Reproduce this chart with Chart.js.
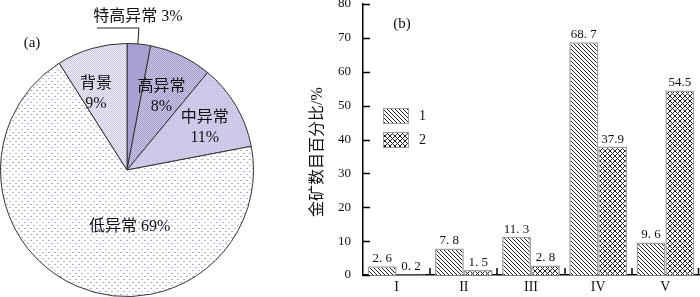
<!DOCTYPE html>
<html>
<head>
<meta charset="utf-8">
<script src="https://cdn.jsdelivr.net/npm/chart.js@4.4.0/dist/chart.umd.min.js"></script>
<style>
  body { margin: 0; width: 700px; height: 297px; overflow: hidden; background: #fff; position: relative; }
  #pie { position: absolute; left: 0; top: 0; }
  #bars { position: absolute; left: 290px; top: -4px; }
</style>
</head>
<body>
<canvas id="pie" width="290" height="297"></canvas>
<canvas id="bars" width="410" height="301"></canvas>
<script>
// datos de la grafica (a)
const etiquetasPie = ['特高异常', '高异常', '中异常', '低异常', '背景'];
const valoresPie = [3, 8, 11, 69, 9];

// datos de la grafica (b)
const categorias = ['I', 'II', 'III', 'IV', 'V'];
const serie1 = [2.6, 7.8, 11.3, 68.7, 9.6];
const serie2 = [0.2, 1.5, 2.8, 37.9, 54.5];
const textos1 = ['2. 6', '7. 8', '11. 3', '68. 7', '9. 6'];
const textos2 = ['0. 2', '1. 5', '2. 8', '37.9', '54.5'];
const leyenda = ['1', '2'];
const ticksY = [0, 10, 20, 30, 40, 50, 60, 70, 80];

const serif = '"Liberation Serif", "Noto Sans CJK SC", serif';

// patrones de relleno
function puntos(fondo, color, paso, lista) {
  const c = document.createElement('canvas');
  c.width = paso; c.height = paso;
  const g = c.getContext('2d');
  g.fillStyle = fondo; g.fillRect(0, 0, paso, paso);
  g.fillStyle = color;
  lista.forEach(p => g.fillRect(p[0], p[1], 1, 1));
  return g.createPattern(c, 'repeat');
}
function rayas(paso, cruz) {
  const c = document.createElement('canvas');
  c.width = paso; c.height = paso;
  const g = c.getContext('2d');
  g.fillStyle = '#fff'; g.fillRect(0, 0, paso, paso);
  g.strokeStyle = '#222'; g.lineWidth = 1;
  g.beginPath();
  g.moveTo(-1, -1); g.lineTo(paso + 1, paso + 1);
  g.moveTo(-1, paso - 1); g.lineTo(1, paso + 1);
  g.moveTo(paso - 1, -1); g.lineTo(paso + 1, 1);
  if (cruz) {
    g.moveTo(paso + 1, -1); g.lineTo(-1, paso + 1);
    g.moveTo(1, -1); g.lineTo(-1, 1);
    g.moveTo(paso + 1, paso - 1); g.lineTo(paso - 1, paso + 1);
  }
  g.stroke();
  return g.createPattern(c, 'repeat');
}

const coloresPie = [
  '#a99fd0',
  puntos('#cfc9e8', '#a298cc', 2, [[0, 0], [1, 1]]),
  puntos('#d2cbe9', '#c4bce2', 2, [[0, 0]]),
  puntos('#ffffff', '#b4aed8', 6, [[0, 0], [1, 0], [3, 3], [4, 3]]),
  puntos('#eeebf7', '#cdc7e5', 2, [[0, 0], [1, 1]])
];

// posicion de los textos dentro de las porciones
const radioTexto = [0, 0.64, 0.70, 0.45, 0.65];
const giroTexto = [0, 0, 2, -26, -6];
const lineasTexto = [[], ['高异常', '8%'], ['中异常', '11%'], ['低异常 69%'], ['背景', '9%']];

const textosPie = {
  id: 'textosPie',
  afterDatasetsDraw(chart) {
    const ctx = chart.ctx;
    const arcos = chart.getDatasetMeta(0).data;
    ctx.save();
    ctx.fillStyle = '#111';
    ctx.textAlign = 'center';
    ctx.textBaseline = 'middle';
    arcos.forEach((a, i) => {
      const p = a.getProps(['x', 'y', 'startAngle', 'endAngle', 'outerRadius'], true);
      const medio = (p.startAngle + p.endAngle) / 2;
      if (i === 0) {
        // etiqueta exterior con linea guia
        const bx = p.x + Math.cos(medio) * p.outerRadius;
        const by = p.y + Math.sin(medio) * p.outerRadius;
        ctx.strokeStyle = '#222';
        ctx.lineWidth = 1;
        ctx.beginPath();
        ctx.moveTo(bx - 1, by);
        ctx.lineTo(bx, 28);
        ctx.lineTo(97, 28);
        ctx.stroke();
        ctx.font = '16px ' + serif;
        ctx.fillText(etiquetasPie[i] + ' ' + valoresPie[i] + '%', 138, 17);
        return;
      }
      const ang = medio + giroTexto[i] * Math.PI / 180;
      const r = p.outerRadius * radioTexto[i];
      const cx = p.x + Math.cos(ang) * r;
      const cy = p.y + Math.sin(ang) * r;
      const ls = lineasTexto[i];
      ctx.font = '16px ' + serif;
      ls.forEach((t, k) => ctx.fillText(t, cx, cy + (k - (ls.length - 1) / 2) * 20));
    });
    ctx.font = '15px ' + serif;
    ctx.fillText('(a)', 32, 43);
    ctx.restore();
  }
};

new Chart(document.getElementById('pie'), {
  type: 'pie',
  data: {
    labels: etiquetasPie,
    datasets: [{
      data: valoresPie,
      backgroundColor: coloresPie,
      borderColor: '#333',
      borderWidth: 1
    }]
  },
  options: {
    responsive: false,
    animation: false,
    layout: { padding: { left: 0, right: 36, top: 43, bottom: 0 } },
    plugins: { legend: { display: false }, tooltip: { enabled: false } }
  },
  plugins: [textosPie]
});

// grafica de barras
const rellenos = [rayas(4, false), rayas(5, true)];

const extrasBarras = {
  id: 'extrasBarras',
  afterDatasetsDraw(chart) {
    const ctx = chart.ctx;
    const area = chart.chartArea;
    const x = chart.scales.x, y = chart.scales.y;
    ctx.save();
    ctx.strokeStyle = '#000';
    ctx.lineWidth = 1.5;
    ctx.beginPath();
    // marcas hacia dentro del eje y
    ticksY.forEach(v => {
      const py = Math.round(y.getPixelForValue(v)) + 0.5;
      ctx.moveTo(area.left, py); ctx.lineTo(area.left + 7, py);
    });
    // marcas entre categorias
    for (let i = 1; i <= categorias.length; i++) {
      const px = Math.round((x.getPixelForValue(i - 1) + x.getPixelForValue(Math.min(i, categorias.length - 1))) / 2);
      const bx = i === categorias.length ? area.right - 0.5 : px;
      ctx.moveTo(bx, area.bottom); ctx.lineTo(bx, area.bottom - 7);
    }
    ctx.stroke();

    // valores sobre las barras
    ctx.fillStyle = '#111';
    ctx.font = '13px ' + serif;
    ctx.textAlign = 'center';
    ctx.textBaseline = 'bottom';
    [textos1, textos2].forEach((tx, d) => {
      chart.getDatasetMeta(d).data.forEach((b, i) => ctx.fillText(tx[i], b.x, b.y - 1));
    });

    // leyenda
    chart.data.datasets.forEach((ds, d) => {
      const ly = 112 + d * 24;
      ctx.fillStyle = ds.backgroundColor;
      ctx.fillRect(93, ly, 25, 15);
      ctx.strokeStyle = '#999';
      ctx.lineWidth = 1;
      ctx.strokeRect(93.5, ly + 0.5, 25, 15);
      ctx.fillStyle = '#111';
      ctx.font = '14px ' + serif;
      ctx.textAlign = 'left';
      ctx.textBaseline = 'middle';
      ctx.fillText(ds.label, 129, ly + 8);
    });

    // titulo del eje y y rotulo (b)
    ctx.font = '15px ' + serif;
    ctx.textAlign = 'center';
    ctx.fillText('(b)', 112, 28);
    ctx.translate(28, 156);
    ctx.rotate(-Math.PI / 2);
    ctx.font = '16px ' + serif;
    ctx.fillText('金矿数目百分比/%', 0, 0);
    ctx.restore();
  }
};

new Chart(document.getElementById('bars'), {
  type: 'bar',
  data: {
    labels: categorias,
    datasets: [
      { label: leyenda[0], data: serie1, backgroundColor: rellenos[0], borderColor: '#a0a0a0', borderWidth: 1.5 },
      { label: leyenda[1], data: serie2, backgroundColor: rellenos[1], borderColor: '#a0a0a0', borderWidth: 1.5 }
    ]
  },
  options: {
    responsive: false,
    animation: false,
    categoryPercentage: 0.86,
    barPercentage: 1,
    layout: { padding: { top: 8, right: 1, left: 0, bottom: 0 } },
    plugins: { legend: { display: false }, tooltip: { enabled: false } },
    scales: {
      x: {
        grid: { display: false, drawTicks: false },
        border: { color: '#000', width: 1.5 },
        ticks: { color: '#111', font: { family: serif, size: 14 }, padding: 4 },
        afterFit(s) { s.height = 22; }
      },
      y: {
        min: 0, max: 80,
        grid: { display: false, drawTicks: false },
        border: { color: '#000', width: 1.5 },
        ticks: { stepSize: 10, color: '#111', font: { family: serif, size: 13 }, padding: 12 },
        afterFit(s) { s.width = 73; s.paddingTop = 0; s.paddingBottom = 0; }
      }
    }
  },
  plugins: [extrasBarras]
});
</script>
</body>
</html>
